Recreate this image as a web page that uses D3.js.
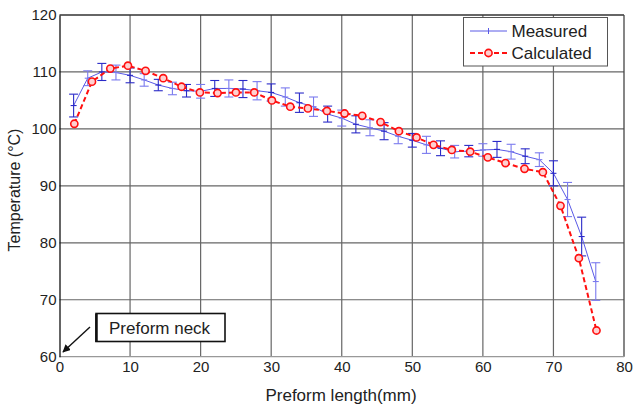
<!DOCTYPE html>
<html>
<head>
<meta charset="utf-8">
<script src="https://cdn.jsdelivr.net/npm/d3@7"></script>
<style>
  html, body { margin: 0; padding: 0; background: #fff; }
  svg { display: block; font-family: "Liberation Sans", Arial, sans-serif; }
</style>
</head>
<body>
<svg id="chart" width="635" height="408"></svg>
<script>
// ---- data ----
const xTicks = [0, 10, 20, 30, 40, 50, 60, 70, 80];
const yTicks = [60, 70, 80, 90, 100, 110, 120];

const measuredX = [2, 4, 6, 8, 10, 12, 14, 16, 18, 20, 22, 24, 26, 28, 30, 32, 34, 36, 38,
                   40, 42, 44, 46, 48, 50, 52, 54, 56, 58, 60, 62, 64, 66, 68, 70, 72, 74, 76];
const measuredY = [104.1, 108.9, 110.0, 109.9, 109.4, 108.6, 107.7, 107.1, 106.7, 106.6,
                   107.1, 107.1, 107.0, 106.7, 106.4, 105.6, 104.6, 103.9, 102.6, 101.9,
                   100.8, 100.2, 99.6, 98.7, 98.0, 97.2, 96.6, 96.0, 96.1, 96.3,
                   96.4, 96.0, 95.2, 94.6, 92.2, 87.6, 81.1, 73.2];
const measuredErr = [2.0, 1.3, 1.5, 1.3, 1.3, 1.1, 1.0, 1.1, 1.1, 1.2,
                     1.4, 1.5, 1.5, 1.6, 1.5, 1.6, 1.7, 1.7, 1.4, 1.4,
                     1.5, 1.4, 1.5, 1.3, 1.2, 1.5, 1.3, 1.1, 1.0, 1.1,
                     1.4, 1.3, 1.3, 1.2, 2.2, 3.0, 3.4, 3.3];

const calcX = [2.1, 4.6, 7.2, 9.7, 12.2, 14.7, 17.3, 19.9, 22.4, 25.0,
               27.6, 30.1, 32.7, 35.2, 37.9, 40.4, 42.9, 45.5, 48.1, 50.6,
               53.0, 55.6, 58.2, 60.7, 63.2, 65.9, 68.5, 71.0, 73.6, 76.1];
const calcY = [100.9, 108.3, 110.6, 111.1, 110.2, 108.9, 107.4, 106.4, 106.3, 106.4,
               106.4, 105.0, 103.9, 103.6, 103.15, 102.7, 102.3, 101.2, 99.6, 98.5,
               97.2, 96.3, 96.0, 95.0, 94.0, 93.0, 92.4, 86.5, 77.3, 64.6];

const seriesNames = ["Measured", "Calculated"];
const xTitle = "Preform length(mm)";
const yTitle = "Temperature (°C)";
const annotation = "Preform neck";

// ---- layout ----
const svg = d3.select("#chart");
const L = 59.5, R = 624, T = 15, B = 356.7;
const x = d3.scaleLinear().domain([0, 80]).range([L, R]);
const y = d3.scaleLinear().domain([60, 120]).range([B, T]);

const measured = measuredX.map((d, i) => ({x: d, y: measuredY[i], e: measuredErr[i]}));
const calc = calcX.map((d, i) => ({x: d, y: calcY[i]}));

// grid
const grid = svg.append("g");
grid.selectAll("line.vx").data(xTicks.slice(1, -1)).join("line")
  .attr("x1", d => x(d)).attr("x2", d => x(d)).attr("y1", T).attr("y2", B)
  .attr("stroke", "#666").attr("stroke-width", 1.2);
grid.selectAll("line.hy").data(yTicks.slice(1, -1)).join("line")
  .attr("x1", L).attr("x2", R).attr("y1", d => y(d)).attr("y2", d => y(d))
  .attr("stroke", "#666").attr("stroke-width", 1.2);

// frame
svg.append("line").attr("x1", L).attr("x2", R).attr("y1", T).attr("y2", T).attr("stroke", "#333").attr("stroke-width", 1.3);
svg.append("line").attr("x1", R).attr("x2", R).attr("y1", T).attr("y2", B).attr("stroke", "#444").attr("stroke-width", 1.3);
svg.append("line").attr("x1", L).attr("x2", R).attr("y1", B).attr("y2", B).attr("stroke", "#999").attr("stroke-width", 1.3);

// axes
const xAxis = d3.axisBottom(x).tickValues(xTicks).tickSize(0).tickPadding(5);
const yAxis = d3.axisLeft(y).tickValues(yTicks).tickSize(0).tickPadding(3);
const gx = svg.append("g").attr("transform", `translate(0,${B})`).call(xAxis);
gx.select(".domain").remove();
gx.selectAll("text").attr("font-size", 15).attr("fill", "#222").attr("font-family", "Liberation Sans, Arial, sans-serif");
const gy = svg.append("g").attr("transform", `translate(${L},0)`).call(yAxis);
gy.select(".domain").attr("stroke", "#111").attr("stroke-width", 1.3);
gy.selectAll("text").attr("font-size", 15).attr("fill", "#222").attr("font-family", "Liberation Sans, Arial, sans-serif");

// titles
svg.append("text").attr("x", 341).attr("y", 401).attr("text-anchor", "middle")
  .attr("font-size", 17).attr("fill", "#222").text(xTitle);
svg.append("text").attr("transform", `translate(20,190) rotate(-90)`).attr("text-anchor", "middle")
  .attr("font-size", 16).attr("fill", "#222").text(yTitle);

// measured series
const gm = svg.append("g");
gm.append("path").datum(measured)
  .attr("d", d3.line().x(d => x(d.x)).y(d => y(d.y)))
  .attr("fill", "none").attr("stroke", "#5a5ae6").attr("stroke-width", 1);
const cap = 4.5;
const eb = gm.selectAll("g.eb").data(measured).join("g")
  .attr("stroke", (d, i) => i % 2 === 0 ? "#2a2ac8" : "#7a7aee").attr("stroke-width", 1.1);
eb.append("line").attr("x1", d => x(d.x)).attr("x2", d => x(d.x))
  .attr("y1", d => y(d.y + d.e)).attr("y2", d => y(d.y - d.e));
eb.append("line").attr("x1", d => x(d.x) - cap).attr("x2", d => x(d.x) + cap)
  .attr("y1", d => y(d.y + d.e)).attr("y2", d => y(d.y + d.e));
eb.append("line").attr("x1", d => x(d.x) - cap).attr("x2", d => x(d.x) + cap)
  .attr("y1", d => y(d.y - d.e)).attr("y2", d => y(d.y - d.e));
eb.append("line").attr("x1", d => x(d.x) - 3).attr("x2", d => x(d.x) + 3)
  .attr("y1", d => y(d.y)).attr("y2", d => y(d.y));

// calculated series
const red = "#ff1010";
const gc = svg.append("g");
gc.append("path").datum(calc)
  .attr("d", d3.line().x(d => x(d.x)).y(d => y(d.y)))
  .attr("fill", "none").attr("stroke", red).attr("stroke-width", 2).attr("stroke-dasharray", "5,3");
gc.selectAll("circle").data(calc).join("circle")
  .attr("cx", d => x(d.x)).attr("cy", d => y(d.y)).attr("r", 3.6)
  .attr("fill", "#ffd0d0").attr("stroke", red).attr("stroke-width", 1.6);

// legend
const lg = svg.append("g");
lg.append("rect").attr("x", 463.5).attr("y", 17.5).attr("width", 144).attr("height", 48.5)
  .attr("fill", "#fff").attr("stroke", "#555").attr("stroke-width", 1);
lg.append("line").attr("x1", 470).attr("x2", 507).attr("y1", 31).attr("y2", 31)
  .attr("stroke", "#5a5ae6").attr("stroke-width", 1);
lg.append("line").attr("x1", 488.5).attr("x2", 488.5).attr("y1", 28).attr("y2", 34)
  .attr("stroke", "#5a5ae6").attr("stroke-width", 1);
lg.append("line").attr("x1", 470).attr("x2", 507).attr("y1", 53).attr("y2", 53)
  .attr("stroke", red).attr("stroke-width", 2).attr("stroke-dasharray", "5,3");
lg.append("circle").attr("cx", 488.5).attr("cy", 53).attr("r", 3.6)
  .attr("fill", "#ffd0d0").attr("stroke", red).attr("stroke-width", 1.6);
lg.selectAll("text").data(seriesNames).join("text")
  .attr("x", 511.5).attr("y", (d, i) => 37 + i * 22)
  .attr("font-size", 17).attr("fill", "#222").text(d => d);

// annotation
const an = svg.append("g");
an.append("rect").attr("x", 96).attr("y", 313.5).attr("width", 129).attr("height", 28)
  .attr("fill", "#fff").attr("stroke", "#111").attr("stroke-width", 1.6);
an.append("line").attr("x1", 96.5).attr("x2", 96.5).attr("y1", 314).attr("y2", 342)
  .attr("stroke", "#111").attr("stroke-width", 2.5);
an.append("text").attr("x", 109).attr("y", 333.5).attr("font-size", 17).attr("fill", "#222").text(annotation);
svg.append("defs").append("marker").attr("id", "ah").attr("viewBox", "0 0 10 10")
  .attr("refX", 9).attr("refY", 5).attr("markerWidth", 8).attr("markerHeight", 8)
  .attr("orient", "auto").attr("markerUnits", "userSpaceOnUse")
  .append("path").attr("d", "M0,0 L10,5 L0,10 Z").attr("fill", "#111");
an.append("line").attr("x1", 90).attr("y1", 327).attr("x2", 63).attr("y2", 352)
  .attr("stroke", "#111").attr("stroke-width", 1.4).attr("marker-end", "url(#ah)");
</script>
</body>
</html>
